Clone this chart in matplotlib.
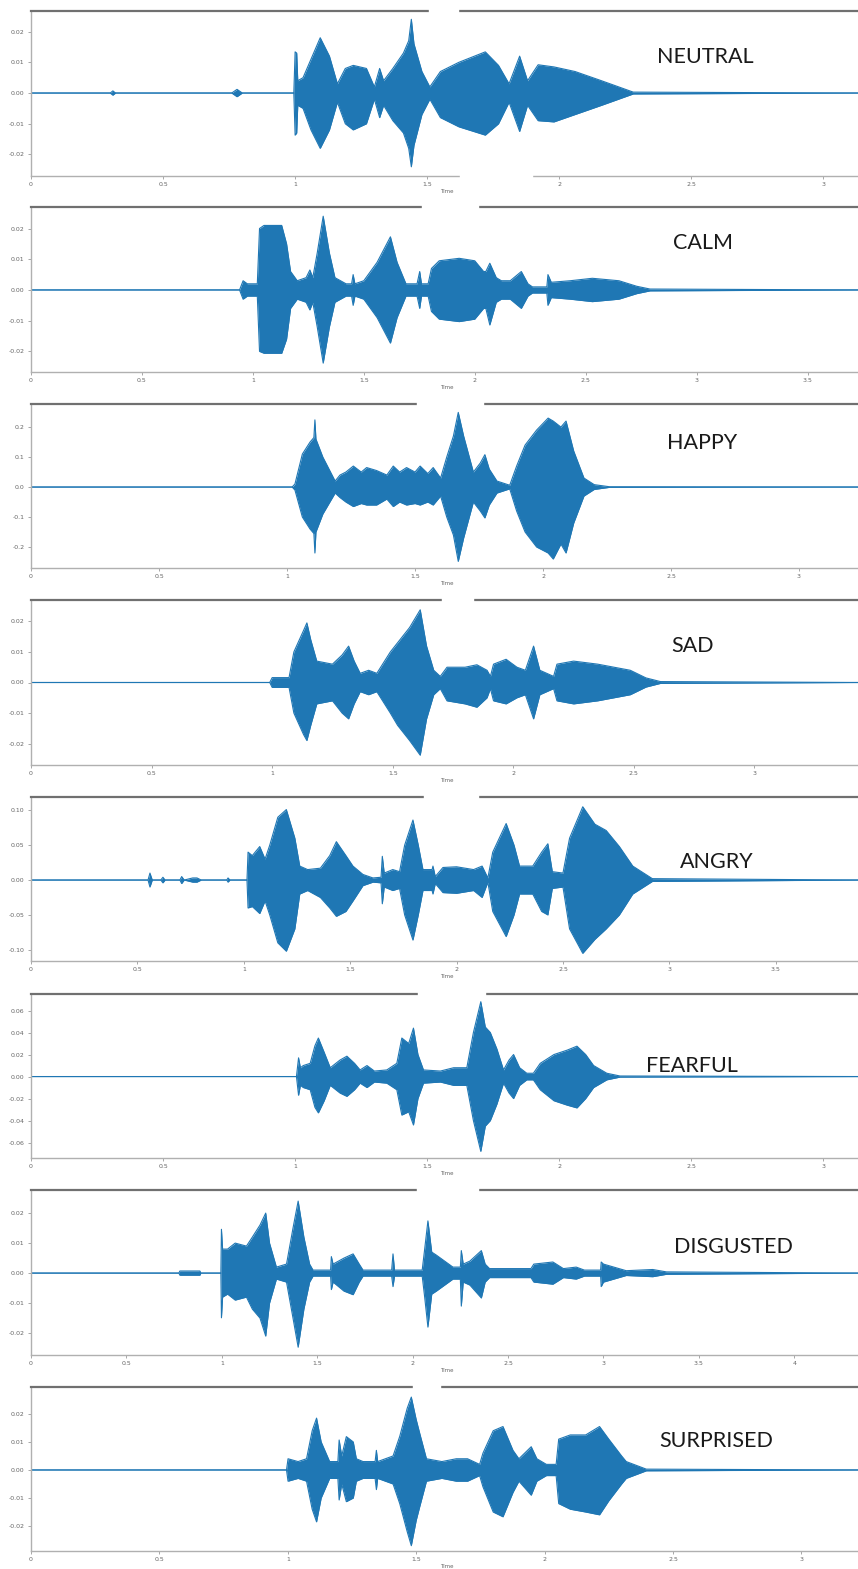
import numpy as np
import matplotlib
matplotlib.use("Agg")
from matplotlib import pyplot as plt
from matplotlib.patches import Rectangle
from matplotlib.ticker import MultipleLocator, FormatStrFormatter

# envelope of each waveform: (time s, upper, lower)
neutral = [(0, 0, 0), (0.30, 0, 0), (0.31, 0.0007, -0.0007), (0.32, 0, 0), (0.76, 0, 0),
           (0.78, 0.0012, -0.0012), (0.80, 0, 0), (0.995, 0, 0), (1.000, 0.0134, -0.0137),
           (1.006, 0.013, -0.013), (1.010, 0.004, -0.004), (1.03, 0.005, -0.005),
           (1.06, 0.011, -0.012), (1.095, 0.018, -0.018), (1.13, 0.012, -0.012),
           (1.16, 0.003, -0.003), (1.19, 0.008, -0.010), (1.22, 0.009, -0.012),
           (1.27, 0.008, -0.010), (1.30, 0.002, -0.002), (1.32, 0.008, -0.008),
           (1.335, 0.004, -0.004), (1.37, 0.008, -0.009), (1.41, 0.013, -0.013),
           (1.43, 0.017, -0.018), (1.44, 0.024, -0.024), (1.45, 0.016, -0.017),
           (1.48, 0.007, -0.007), (1.51, 0.002, -0.002), (1.55, 0.007, -0.008),
           (1.62, 0.010, -0.011), (1.72, 0.0134, -0.0137), (1.77, 0.009, -0.010),
           (1.81, 0.003, -0.003), (1.85, 0.012, -0.0125), (1.88, 0.004, -0.004),
           (1.92, 0.0092, -0.009), (1.98, 0.0085, -0.0094), (2.06, 0.007, -0.007),
           (2.16, 0.004, -0.004), (2.28, 0.0003, -0.0003), (3.15, 0, 0)]

calm = [(0, 0, 0), (0.94, 0, 0), (0.956, 0.003, -0.003), (0.975, 0.002, -0.002),
        (1.02, 0.002, -0.002), (1.03, 0.020, -0.020), (1.05, 0.021, -0.0206),
        (1.13, 0.021, -0.0206), (1.152, 0.015, -0.016), (1.17, 0.006, -0.006),
        (1.20, 0.003, -0.003), (1.24, 0.004, -0.004), (1.257, 0.0065, -0.0065),
        (1.27, 0.004, -0.004), (1.29, 0.012, -0.012), (1.317, 0.024, -0.0238),
        (1.345, 0.012, -0.012), (1.37, 0.004, -0.004), (1.42, 0.002, -0.002),
        (1.445, 0.002, -0.002), (1.452, 0.005, -0.005), (1.46, 0.002, -0.002),
        (1.50, 0.003, -0.003), (1.56, 0.009, -0.009), (1.62, 0.0173, -0.0173),
        (1.65, 0.009, -0.009), (1.69, 0.002, -0.002), (1.74, 0.002, -0.002),
        (1.752, 0.006, -0.006), (1.76, 0.002, -0.002), (1.79, 0.002, -0.002),
        (1.805, 0.007, -0.007), (1.84, 0.0095, -0.0095), (1.93, 0.0103, -0.0103),
        (2.00, 0.0095, -0.0095), (2.04, 0.006, -0.006), (2.05, 0.006, -0.006),
        (2.068, 0.0087, -0.0114), (2.097, 0.004, -0.004), (2.12, 0.003, -0.003),
        (2.16, 0.003, -0.003), (2.21, 0.006, -0.006), (2.24, 0.002, -0.002),
        (2.26, 0.001, -0.001), (2.325, 0.001, -0.001), (2.33, 0.005, -0.005),
        (2.345, 0.0025, -0.0025), (2.43, 0.003, -0.003), (2.53, 0.0038, -0.0038),
        (2.65, 0.003, -0.003), (2.73, 0.0012, -0.0012), (2.79, 0.0003, -0.0003),
        (3.75, 0, 0)]

happy = [(0, 0, 0), (1.02, 0, 0), (1.031, 0.01, -0.01), (1.06, 0.11, -0.10),
         (1.09, 0.15, -0.14), (1.105, 0.165, -0.155), (1.109, 0.224, -0.22),
         (1.113, 0.16, -0.15), (1.14, 0.10, -0.09), (1.188, 0.02, -0.02),
         (1.207, 0.04, -0.035), (1.23, 0.05, -0.05), (1.259, 0.07, -0.065),
         (1.29, 0.05, -0.055), (1.311, 0.065, -0.06), (1.35, 0.055, -0.06),
         (1.39, 0.04, -0.04), (1.415, 0.07, -0.065), (1.44, 0.05, -0.05),
         (1.467, 0.065, -0.06), (1.50, 0.05, -0.055), (1.52, 0.07, -0.06),
         (1.55, 0.045, -0.05), (1.571, 0.065, -0.06), (1.60, 0.03, -0.03),
         (1.624, 0.10, -0.10), (1.65, 0.17, -0.16), (1.669, 0.249, -0.248),
         (1.69, 0.17, -0.17), (1.728, 0.05, -0.05), (1.755, 0.08, -0.08),
         (1.773, 0.108, -0.103), (1.79, 0.06, -0.06), (1.82, 0.02, -0.02),
         (1.87, 0.006, -0.006), (1.897, 0.07, -0.08), (1.93, 0.14, -0.15),
         (1.975, 0.19, -0.20), (2.02, 0.23, -0.22), (2.04, 0.22, -0.24),
         (2.07, 0.20, -0.19), (2.09, 0.22, -0.22), (2.12, 0.12, -0.12),
         (2.16, 0.03, -0.03), (2.20, 0.008, -0.008), (2.26, 0.001, -0.001),
         (3.25, 0, 0)]

sad = [(0, 0, 0), (0.99, 0, 0), (1.00, 0.0016, -0.0016), (1.07, 0.0016, -0.0016),
       (1.09, 0.010, -0.010), (1.13, 0.017, -0.017), (1.144, 0.0195, -0.019),
       (1.16, 0.014, -0.014), (1.185, 0.007, -0.007), (1.25, 0.006, -0.006),
       (1.29, 0.009, -0.010), (1.317, 0.0119, -0.0119), (1.34, 0.007, -0.007),
       (1.365, 0.003, -0.003), (1.40, 0.004, -0.004), (1.434, 0.003, -0.003),
       (1.49, 0.010, -0.010), (1.52, 0.013, -0.014), (1.57, 0.018, -0.019),
       (1.614, 0.0238, -0.0238), (1.64, 0.012, -0.012), (1.67, 0.004, -0.004),
       (1.697, 0.002, -0.002), (1.725, 0.005, -0.006), (1.80, 0.005, -0.007),
       (1.849, 0.0058, -0.0081), (1.891, 0.004, -0.005), (1.905, 0.002, -0.002),
       (1.918, 0.006, -0.006), (1.97, 0.0076, -0.007), (2.015, 0.005, -0.005),
       (2.05, 0.004, -0.004), (2.084, 0.0119, -0.0119), (2.11, 0.004, -0.004),
       (2.167, 0.002, -0.002), (2.181, 0.006, -0.006), (2.25, 0.007, -0.007),
       (2.35, 0.006, -0.006), (2.485, 0.004, -0.004), (2.55, 0.0015, -0.0015),
       (2.61, 0.0003, -0.0003), (3.45, 0, 0)]

angry = [(0, 0, 0), (0.55, 0, 0), (0.559, 0.010, -0.010), (0.57, 0, 0), (0.61, 0, 0),
         (0.62, 0.004, -0.004), (0.63, 0, 0), (0.70, 0, 0), (0.708, 0.005, -0.005),
         (0.72, 0, 0), (0.76, 0.003, -0.003), (0.78, 0.003, -0.003), (0.80, 0, 0),
         (0.92, 0, 0), (0.926, 0.003, -0.003), (0.935, 0, 0), (1.015, 0, 0),
         (1.02, 0.040, -0.040), (1.04, 0.035, -0.038), (1.075, 0.048, -0.048),
         (1.10, 0.030, -0.030), (1.122, 0.05, -0.05), (1.16, 0.09, -0.09),
         (1.20, 0.101, -0.102), (1.24, 0.06, -0.07), (1.263, 0.02, -0.02),
         (1.30, 0.015, -0.015), (1.36, 0.017, -0.025), (1.404, 0.035, -0.040),
         (1.435, 0.055, -0.052), (1.48, 0.035, -0.045), (1.513, 0.020, -0.030),
         (1.56, 0.008, -0.008), (1.607, 0.003, -0.003), (1.645, 0.004, -0.004),
         (1.651, 0.034, -0.034), (1.66, 0.010, -0.010), (1.70, 0.015, -0.015),
         (1.732, 0.012, -0.012), (1.756, 0.05, -0.05), (1.795, 0.086, -0.086),
         (1.82, 0.05, -0.05), (1.842, 0.015, -0.015), (1.885, 0.015, -0.015),
         (1.889, 0.02, -0.02), (1.90, 0.005, -0.005), (1.936, 0.018, -0.018),
         (2.00, 0.019, -0.019), (2.08, 0.015, -0.015), (2.12, 0.020, -0.025),
         (2.147, 0.003, -0.003), (2.17, 0.04, -0.045), (2.233, 0.081, -0.081),
         (2.27, 0.05, -0.05), (2.296, 0.02, -0.02), (2.358, 0.02, -0.02),
         (2.40, 0.04, -0.045), (2.429, 0.052, -0.05), (2.45, 0.012, -0.012),
         (2.50, 0.01, -0.01), (2.531, 0.06, -0.07), (2.593, 0.105, -0.105),
         (2.65, 0.08, -0.085), (2.703, 0.071, -0.07), (2.765, 0.048, -0.05),
         (2.828, 0.02, -0.02), (2.92, 0.002, -0.002), (3.91, 0, 0)]

fearful = [(0, 0, 0), (1.005, 0, 0), (1.013, 0.017, -0.017), (1.02, 0.008, -0.008),
           (1.031, 0.010, -0.010), (1.057, 0.012, -0.012), (1.075, 0.028, -0.028),
           (1.088, 0.035, -0.033), (1.11, 0.022, -0.022), (1.133, 0.008, -0.008),
           (1.17, 0.015, -0.015), (1.196, 0.0185, -0.018), (1.225, 0.012, -0.012),
           (1.246, 0.006, -0.006), (1.272, 0.010, -0.010), (1.30, 0.005, -0.005),
           (1.347, 0.006, -0.006), (1.385, 0.012, -0.012), (1.404, 0.035, -0.035),
           (1.43, 0.030, -0.032), (1.448, 0.044, -0.044), (1.465, 0.020, -0.020),
           (1.486, 0.006, -0.006), (1.55, 0.005, -0.005), (1.60, 0.008, -0.008),
           (1.65, 0.008, -0.008), (1.675, 0.040, -0.040), (1.703, 0.068, -0.068),
           (1.72, 0.045, -0.045), (1.739, 0.040, -0.040), (1.764, 0.025, -0.025),
           (1.789, 0.006, -0.006), (1.81, 0.015, -0.015), (1.827, 0.020, -0.020),
           (1.85, 0.008, -0.008), (1.877, 0.003, -0.003), (1.902, 0.003, -0.003),
           (1.928, 0.012, -0.012), (1.98, 0.020, -0.022), (2.03, 0.024, -0.026),
           (2.067, 0.0276, -0.0285), (2.10, 0.020, -0.020), (2.13, 0.010, -0.010),
           (2.18, 0.003, -0.003), (2.23, 0.0005, -0.0005), (3.15, 0, 0)]

disgusted = [(0, 0, 0), (0.775, 0, 0), (0.78, 0.0007, -0.0007), (0.885, 0.0007, -0.0007),
             (0.89, 0, 0), (0.995, 0, 0), (0.998, 0.0146, -0.0149), (1.004, 0.008, -0.008),
             (1.03, 0.008, -0.007), (1.07, 0.010, -0.009), (1.129, 0.009, -0.008),
             (1.16, 0.012, -0.012), (1.20, 0.016, -0.015), (1.23, 0.020, -0.021),
             (1.25, 0.010, -0.010), (1.286, 0.002, -0.002), (1.339, 0.003, -0.003),
             (1.373, 0.015, -0.015), (1.40, 0.024, -0.0247), (1.43, 0.012, -0.012),
             (1.46, 0.003, -0.003), (1.478, 0.001, -0.001), (1.57, 0.001, -0.001),
             (1.574, 0.0055, -0.0055), (1.583, 0.003, -0.003), (1.64, 0.005, -0.006),
             (1.688, 0.0064, -0.0072), (1.72, 0.003, -0.003), (1.74, 0.001, -0.001),
             (1.89, 0.001, -0.001), (1.897, 0.0064, -0.0045), (1.905, 0.001, -0.001),
             (2.05, 0.001, -0.001), (2.063, 0.008, -0.008), (2.08, 0.0174, -0.018),
             (2.10, 0.007, -0.007), (2.124, 0.006, -0.006), (2.211, 0.002, -0.002),
             (2.25, 0.002, -0.002), (2.255, 0.0075, -0.011), (2.265, 0.003, -0.003),
             (2.30, 0.004, -0.004), (2.36, 0.0075, -0.0083), (2.38, 0.003, -0.003),
             (2.403, 0.0015, -0.0015), (2.62, 0.0015, -0.0015), (2.635, 0.003, -0.003),
             (2.735, 0.0037, -0.0037), (2.79, 0.0015, -0.0015), (2.857, 0.002, -0.002),
             (2.90, 0.001, -0.001), (2.985, 0.001, -0.001), (2.988, 0.0037, -0.0045),
             (3.00, 0.003, -0.003), (3.119, 0.0008, -0.0008), (3.258, 0.0012, -0.0012),
             (3.33, 0.0004, -0.0004), (4.36, 0, 0)]

surprised = [(0, 0, 0), (0.995, 0, 0), (1.001, 0.004, -0.004), (1.04, 0.003, -0.003),
             (1.073, 0.004, -0.004), (1.095, 0.014, -0.014), (1.112, 0.0185, -0.0185),
             (1.13, 0.010, -0.010), (1.163, 0.003, -0.003), (1.195, 0.003, -0.003),
             (1.20, 0.0107, -0.0107), (1.21, 0.005, -0.005), (1.228, 0.0119, -0.0113),
             (1.255, 0.010, -0.010), (1.267, 0.004, -0.004), (1.293, 0.003, -0.003),
             (1.34, 0.003, -0.003), (1.345, 0.007, -0.007), (1.35, 0.003, -0.003),
             (1.41, 0.005, -0.005), (1.436, 0.012, -0.012), (1.465, 0.022, -0.022),
             (1.481, 0.026, -0.027), (1.50, 0.018, -0.018), (1.514, 0.013, -0.013),
             (1.54, 0.004, -0.004), (1.60, 0.003, -0.003), (1.656, 0.004, -0.004),
             (1.70, 0.004, -0.004), (1.747, 0.002, -0.002), (1.76, 0.006, -0.006),
             (1.80, 0.014, -0.015), (1.838, 0.0155, -0.0167), (1.877, 0.007, -0.008),
             (1.90, 0.004, -0.004), (1.948, 0.0083, -0.009), (1.97, 0.004, -0.004),
             (2.007, 0.002, -0.002), (2.045, 0.002, -0.002), (2.055, 0.011, -0.012),
             (2.10, 0.0125, -0.014), (2.16, 0.0125, -0.015), (2.214, 0.0155, -0.016),
             (2.25, 0.011, -0.011), (2.30, 0.005, -0.005), (2.318, 0.003, -0.003),
             (2.396, 0.0003, -0.0003), (3.24, 0, 0)]

emotions = ["NEUTRAL", "CALM", "HAPPY", "SAD", "ANGRY", "FEARFUL", "DISGUSTED", "SURPRISED"]
waves = [neutral, calm, happy, sad, angry, fearful, disgusted, surprised]
xmax = [3.15, 3.75, 3.25, 3.45, 3.91, 3.15, 4.36, 3.24]
ylims = [(-0.027, 0.0267), (-0.0267, 0.027), (-0.27, 0.277), (-0.027, 0.027),
         (-0.116, 0.119), (-0.074, 0.075), (-0.0273, 0.0277), (-0.0289, 0.0296)]
ystep = [0.01, 0.01, 0.1, 0.01, 0.05, 0.02, 0.01, 0.01]
yfmt = ["%.2f", "%.2f", "%.1f", "%.2f", "%.2f", "%.2f", "%.2f", "%.2f"]

# layout in pixels
W, H = 858, 1569
tops = [11, 207, 404, 600, 797, 994, 1190, 1387]
bots = [176, 372, 568, 765, 961, 1158, 1355, 1551]
label_xy = [(705, 57), (703, 243), (702, 443), (693, 646), (717, 862),
            (692, 1066), (733, 1247), (716, 1441)]
top_gaps = [(429, 458), (422, 478), (417, 483), (442, 473), (424, 478),
            (418, 485), (417, 478), (413, 440)]

blue = "#1f77b4"
fig = plt.figure(figsize=(W / 100, H / 100), dpi=100)

for i in range(8):
    left = 31
    right = 863
    ax = fig.add_axes([left / W, 1 - bots[i] / H, (right - left) / W, (bots[i] - tops[i]) / H])
    rows = np.array(waves[i])
    t, hi, lo = rows[:, 0], rows[:, 1], rows[:, 2]
    ax.fill_between(t, lo, hi, color=blue, lw=0)
    ax.plot(t, hi, color=blue, lw=0.8)
    ax.plot(t, lo, color=blue, lw=0.8)
    ax.set_xlim(0, xmax[i])
    ax.set_ylim(*ylims[i])
    ax.xaxis.set_major_locator(MultipleLocator(0.5))
    ax.xaxis.set_major_formatter(FormatStrFormatter("%g"))
    ax.yaxis.set_major_locator(MultipleLocator(ystep[i]))
    ax.yaxis.set_major_formatter(FormatStrFormatter(yfmt[i]))
    ax.tick_params(labelsize=4.5, labelcolor="#666666", color="#999999",
                   length=2.5, width=0.6, pad=2)
    ax.set_xlabel("Time", fontsize=4, color="#666666", labelpad=1)
    ax.spines["right"].set_visible(False)
    ax.spines["top"].set_color("#707070")
    ax.spines["top"].set_linewidth(1.6)
    for s in ["left", "bottom"]:
        ax.spines[s].set_color("#b0b0b0")
        ax.spines[s].set_linewidth(1.0)

    lx, ly = label_xy[i]
    fig.text(lx / W, 1 - ly / H, emotions[i], ha="center", va="center",
             fontsize=15.5, family=["Lato", "DejaVu Sans"], color="#1a1a1a")

    g0, g1 = top_gaps[i]
    fig.add_artist(Rectangle((g0 / W, 1 - (tops[i] + 4) / H), (g1 - g0) / W, 9 / H,
                             transform=fig.transFigure, color="white", zorder=10))

# white patch over the first bottom axis line
fig.add_artist(Rectangle((460 / W, 1 - 181 / H), 72 / W, 9 / H,
                         transform=fig.transFigure, color="white", zorder=10))

fig.savefig("out.png", dpi=100)
